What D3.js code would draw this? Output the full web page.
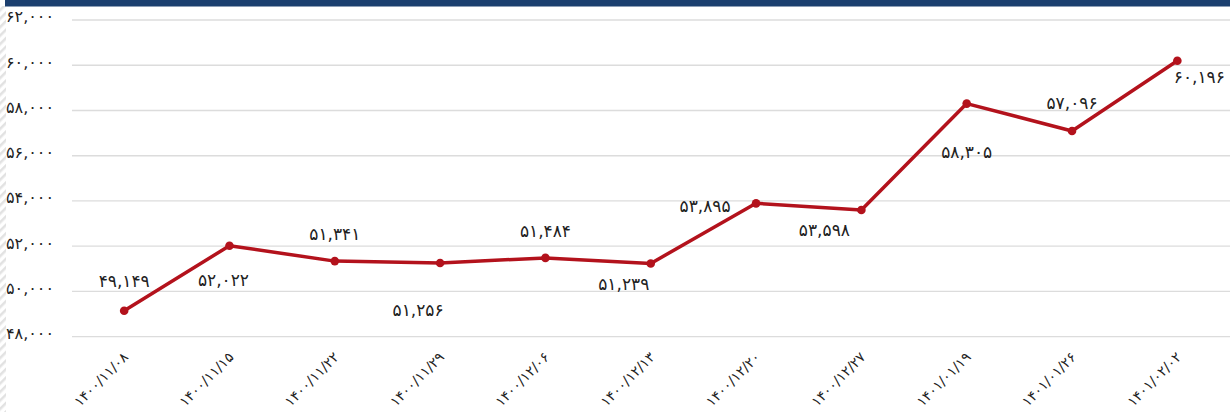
<!DOCTYPE html>
<html>
<head>
<meta charset="utf-8">
<script src="https://cdn.jsdelivr.net/npm/d3@7"></script>
<style>
  body { margin: 0; background: #fff; }
  svg { display: block; }
  text { font-family: "DejaVu Sans", sans-serif; fill: #222; }
</style>
</head>
<body>
<div id="chart"></div>
<script>
// dates (persian calendar) and prices
const dates = [
    "1400/11/08", "1400/11/15", "1400/11/22", "1400/11/29", "1400/12/06",
    "1400/12/13", "1400/12/20", "1400/12/27", "1401/01/19", "1401/01/26", "1401/02/02"
];
const prices = [49149, 52022, 51341, 51256, 51484, 51239, 53895, 53598, 58305, 57096, 60196];
const yTicks = [48000, 50000, 52000, 54000, 56000, 58000, 60000, 62000];

// where each value label sits relative to its point
const labelOffsets = [
    [0, -29], [-6, 35], [0, -26], [-22, 48], [0, -26], [-27, 21],
    [-51, 4], [-37, 21], [0, 49], [0, -27], [22, 17]
];

const W = 1231, H = 412;
const fa = s => String(s).replace(/\d/g, d => "۰۱۲۳۴۵۶۷۸۹"[d]);
const fmt = d3.format(",");

const svg = d3.select("#chart").append("svg")
    .attr("width", W).attr("height", H);

// left hatched strip
const defs = svg.append("defs");
defs.append("pattern")
    .attr("id", "hatch")
    .attr("width", 6).attr("height", 6)
    .attr("patternUnits", "userSpaceOnUse")
    .attr("patternTransform", "rotate(45)")
    .append("rect")
    .attr("width", 2.5).attr("height", 6)
    .attr("fill", "#e2e2e2");
svg.append("rect")
    .attr("x", 0).attr("y", 6).attr("width", 6).attr("height", H - 6)
    .attr("fill", "url(#hatch)");

// top bar
svg.append("rect")
    .attr("x", 5).attr("y", 0).attr("width", 1225).attr("height", 6.5)
    .attr("fill", "#1b3f6f");

const x = d3.scaleBand()
    .domain(dates)
    .range([71.5, 1230]);

const y = d3.scaleLinear()
    .domain([48000, 62000])
    .range([336.7, 20]);

const cx = d => x(d) + x.bandwidth() / 2;

// grid lines
svg.append("g")
    .selectAll("line")
    .data(yTicks)
    .join("line")
    .attr("x1", 72).attr("x2", 1230)
    .attr("y1", d => y(d)).attr("y2", d => y(d))
    .attr("stroke", "#dcdcdc")
    .attr("stroke-width", 1.3);

// y labels
svg.append("g")
    .selectAll("text")
    .data(yTicks)
    .join("text")
    .attr("x", 54)
    .attr("y", d => y(d))
    .attr("dy", "0.15em")
    .attr("text-anchor", "end")
    .attr("font-size", 16)
    .text(d => fa(fmt(d)));

// x labels
svg.append("g")
    .selectAll("text")
    .data(dates)
    .join("text")
    .attr("transform", d => `translate(${cx(d) + 5},${358}) rotate(-45)`)
    .attr("text-anchor", "end")
    .attr("font-size", 14)
    .text(d => fa(d));

// line
const line = d3.line()
    .x((d, i) => cx(dates[i]))
    .y(d => y(d));

svg.append("path")
    .datum(prices)
    .attr("d", line)
    .attr("fill", "none")
    .attr("stroke", "#b3121c")
    .attr("stroke-width", 3.5)
    .attr("stroke-linejoin", "round");

svg.append("g")
    .selectAll("circle")
    .data(prices)
    .join("circle")
    .attr("cx", (d, i) => cx(dates[i]))
    .attr("cy", d => y(d))
    .attr("r", 4.3)
    .attr("fill", "#b3121c");

// value labels
svg.append("g")
    .selectAll("text")
    .data(prices)
    .join("text")
    .attr("x", (d, i) => cx(dates[i]) + labelOffsets[i][0])
    .attr("y", (d, i) => y(d) + labelOffsets[i][1])
    .attr("dy", "0.3em")
    .attr("text-anchor", "middle")
    .attr("font-size", 17)
    .text(d => fa(fmt(d)));
</script>
</body>
</html>
